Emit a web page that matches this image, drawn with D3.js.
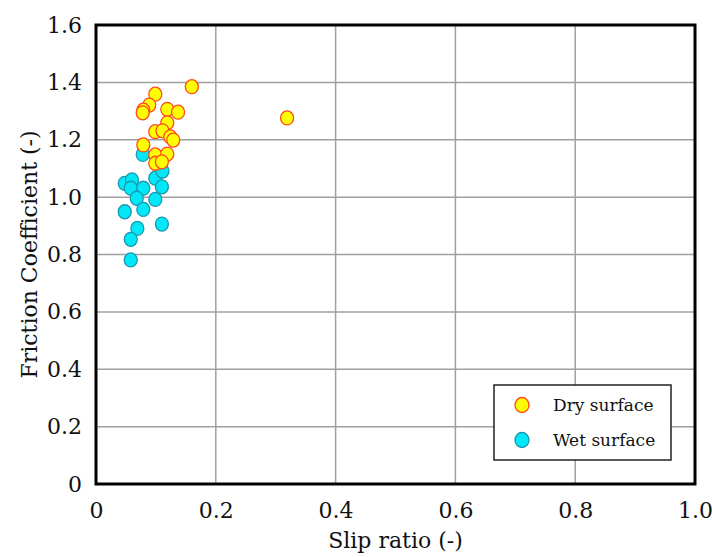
<!DOCTYPE html>
<html>
<head>
<meta charset="utf-8">
<script src="https://cdn.jsdelivr.net/npm/d3@7"></script>
<style>
  body { margin: 0; background: #fff; }
  text { font-family: "Palatino Linotype", "Book Antiqua", "DejaVu Serif", "Liberation Serif", serif; fill: #111; }
</style>
</head>
<body>
<svg id="chart" width="712" height="557"></svg>
<script>
const xTicks = [0, 0.2, 0.4, 0.6, 0.8, 1.0];
const yTicks = [0, 0.2, 0.4, 0.6, 0.8, 1.0, 1.2, 1.4, 1.6];

const dryX = [0.160, 0.099, 0.089, 0.079, 0.078, 0.119, 0.137, 0.119, 0.099, 0.111, 0.124, 0.129, 0.079, 0.099, 0.119, 0.099, 0.110, 0.319];
const dryY = [1.385, 1.359, 1.321, 1.303, 1.294, 1.306, 1.296, 1.259, 1.228, 1.231, 1.210, 1.199, 1.182, 1.147, 1.150, 1.118, 1.123, 1.276];

const wetX = [0.078, 0.099, 0.111, 0.048, 0.060, 0.058, 0.079, 0.110, 0.068, 0.099, 0.079, 0.048, 0.069, 0.110, 0.058, 0.058];
const wetY = [1.149, 1.066, 1.091, 1.048, 1.060, 1.031, 1.031, 1.036, 0.996, 0.992, 0.957, 0.949, 0.891, 0.906, 0.853, 0.781];

const series = [
  { name: "Wet surface", xs: wetX, ys: wetY, fill: "#00e8f8", stroke: "#1b98ae" },
  { name: "Dry surface", xs: dryX, ys: dryY, fill: "#ffff00", stroke: "#ff4a1c" }
];

const margin = { left: 96, top: 25, right: 17, bottom: 73 };
const width = 712 - margin.left - margin.right;
const height = 557 - margin.top - margin.bottom;

const svg = d3.select("#chart");
const g = svg.append("g").attr("transform", `translate(${margin.left},${margin.top})`);

const x = d3.scaleLinear().domain([0, 1]).range([0, width]);
const y = d3.scaleLinear().domain([0, 1.6]).range([height, 0]);

// grid
g.selectAll(".vgrid").data(xTicks.slice(1, -1)).join("line")
  .attr("x1", d => x(d)).attr("x2", d => x(d)).attr("y1", 0).attr("y2", height)
  .attr("stroke", "#a0a0a0").attr("stroke-width", 1.5);
g.selectAll(".hgrid").data(yTicks.slice(1, -1)).join("line")
  .attr("y1", d => y(d)).attr("y2", d => y(d)).attr("x1", 0).attr("x2", width)
  .attr("stroke", "#a0a0a0").attr("stroke-width", 1.5);

// axes (labels only)
const xAxis = g.append("g").attr("transform", `translate(0,${height})`)
  .call(d3.axisBottom(x).tickValues(xTicks).tickSize(0).tickPadding(18)
    .tickFormat(d => d === 0 ? "0" : d === 1 ? "1.0" : d3.format(".1f")(d)));
const yAxis = g.append("g")
  .call(d3.axisLeft(y).tickValues(yTicks).tickSize(0).tickPadding(14)
    .tickFormat(d => d === 0 ? "0" : d3.format(".1f")(d)));
[xAxis, yAxis].forEach(a => {
  a.select(".domain").remove();
  a.selectAll("text").attr("font-size", 22).attr("fill", "#111")
    .attr("font-family", "'DejaVu Serif', serif");
});

// points
series.forEach(s => {
  g.append("g").selectAll("ellipse").data(s.xs.map((v, i) => [v, s.ys[i]])).join("ellipse")
    .attr("cx", d => x(d[0])).attr("cy", d => y(d[1]))
    .attr("rx", 6.5).attr("ry", 7)
    .attr("fill", s.fill).attr("stroke", s.stroke).attr("stroke-width", 1.3);
});

// frame
g.append("rect").attr("width", width).attr("height", height)
  .attr("fill", "none").attr("stroke", "#000").attr("stroke-width", 3);

// axis titles
svg.append("text").attr("x", margin.left + width / 2).attr("y", 548)
  .attr("text-anchor", "middle").attr("font-size", 22).text("Slip ratio (-)");
svg.append("text").attr("transform", `translate(37,${margin.top + height / 2}) rotate(-90)`)
  .attr("text-anchor", "middle").attr("font-size", 22).text("Friction Coefficient (-)");

// legend
const lg = svg.append("g").attr("transform", "translate(494,385)");
lg.append("rect").attr("width", 177).attr("height", 75)
  .attr("fill", "#fff").attr("stroke", "#222").attr("stroke-width", 1.5);
const legendItems = [series[1], series[0]];
legendItems.forEach((s, i) => {
  lg.append("ellipse").attr("cx", 28).attr("cy", 20 + i * 35).attr("rx", 7).attr("ry", 7.5)
    .attr("fill", s.fill).attr("stroke", s.stroke).attr("stroke-width", 1.3);
  lg.append("text").attr("x", 59).attr("y", 26 + i * 35).attr("font-size", 17).text(s.name);
});
</script>
</body>
</html>
